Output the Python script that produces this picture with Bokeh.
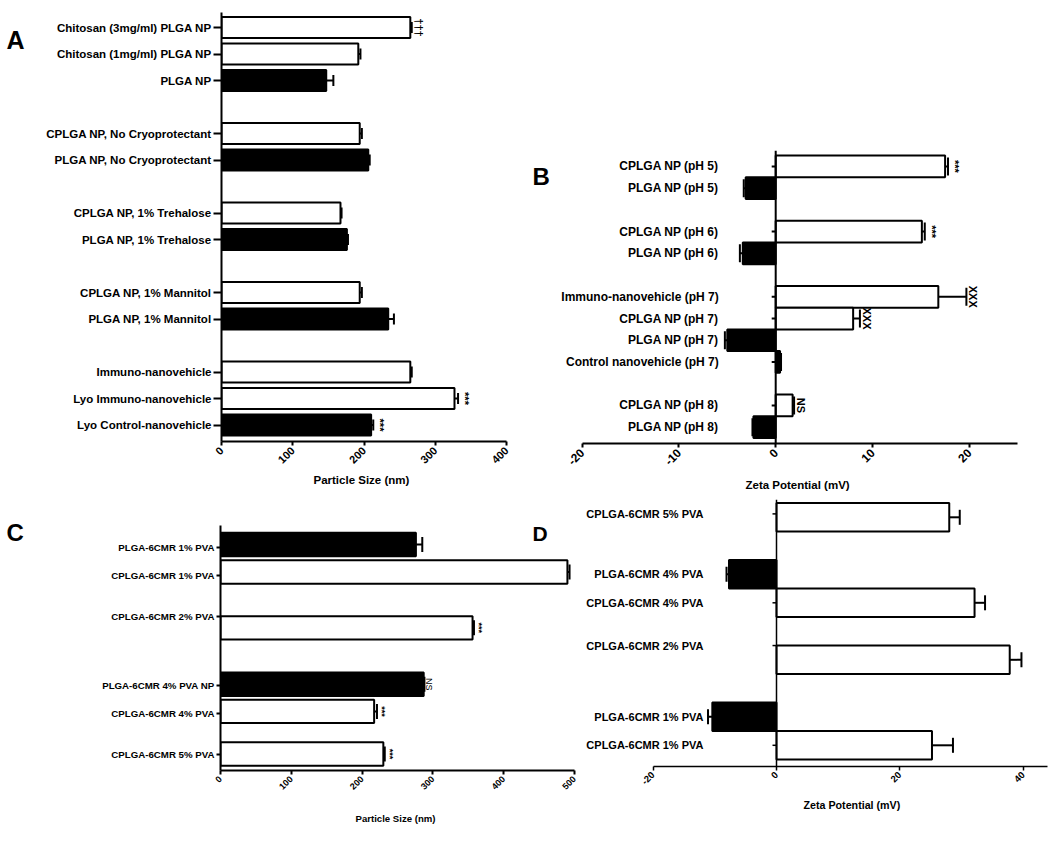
import math
from bokeh.plotting import figure
from bokeh.models import (FixedTicker, Label, Whisker, TeeHead, ColumnDataSource, Range1d,
                          Span, Title)
from bokeh.layouts import row, column
from bokeh.embed import file_html
from bokeh.resources import INLINE
from bokeh.core.properties import value

FONT = "Liberation Sans"

# ---------------- data ----------------
# Panel A : particle size (nm)
a_labels = ["Chitosan (3mg/ml) PLGA NP", "Chitosan (1mg/ml) PLGA NP", "PLGA NP",
            "CPLGA NP, No Cryoprotectant", "PLGA NP, No Cryoprotectant",
            "CPLGA NP, 1% Trehalose", "PLGA NP, 1% Trehalose",
            "CPLGA NP, 1% Mannitol", "PLGA NP, 1% Mannitol",
            "Immuno-nanovehicle", "Lyo Immuno-nanovehicle", "Lyo Control-nanovehicle"]
a_values = [265, 192, 147, 194, 206, 167, 176, 194, 234, 265, 327, 210]
a_errors = [2, 3, 10, 3, 2, 1.5, 1.5, 3, 8, 2, 5, 3]
a_kind = ["coated", "coated", "plain", "coated", "plain", "coated", "plain",
          "coated", "plain", "coated", "coated", "plain"]
a_marks = ["\u2020\u2020\u2020", "", "", "", "", "", "", "", "", "", "***", "***"]
a_ticks = [0, 100, 200, 300, 400]

# Panel B : zeta potential (mV) vs pH
b_labels = ["CPLGA NP (pH 5)", "PLGA NP (pH 5)", "CPLGA NP (pH 6)", "PLGA NP (pH 6)",
            "Immuno-nanovehicle (pH 7)", "CPLGA NP (pH 7)", "PLGA NP (pH 7)",
            "Control nanovehicle (pH 7)", "CPLGA NP (pH 8)", "PLGA NP (pH 8)"]
b_values = [17.5, -3.1, 15.1, -3.4, 16.8, 8.0, -5.0, 0.45, 1.75, -2.3]
b_errors = [0.3, 0.2, 0.3, 0.3, 2.9, 0.7, 0.25, 0.1, 0.15, 0.1]
b_kind = ["coated", "plain", "coated", "plain", "coated", "coated", "plain",
          "plain", "coated", "plain"]
b_marks = ["***", "", "***", "", "XXX", "XXX", "", "", "NS", ""]
b_ticks = [-20, -10, 0, 10, 20]

# Panel C : particle size (nm), 6CMR formulations
c_labels = ["PLGA-6CMR 1% PVA", "CPLGA-6CMR 1% PVA", "CPLGA-6CMR 2% PVA",
            "PLGA-6CMR 4% PVA NP", "CPLGA-6CMR 4% PVA", "CPLGA-6CMR 5% PVA"]
c_values = [276, 490, 356, 287, 217, 230]
c_errors = [9, 3, 2, 1, 4, 2]
c_kind = ["plain", "coated", "coated", "plain", "coated", "coated"]
c_marks = ["", "", "***", "NS", "***", "***"]
c_ticks = [0, 100, 200, 300, 400, 500]

# Panel D : zeta potential (mV), 6CMR formulations
d_labels = ["CPLGA-6CMR 5% PVA", "PLGA-6CMR 4% PVA", "CPLGA-6CMR 4% PVA",
            "CPLGA-6CMR 2% PVA", "PLGA-6CMR 1% PVA", "CPLGA-6CMR 1% PVA"]
d_values = [28.0, -7.7, 32.1, 37.8, -10.4, 25.2]
d_errors = [1.7, 0.4, 1.7, 1.9, 0.7, 3.4]
d_kind = ["coated", "plain", "coated", "coated", "plain", "coated"]
d_ticks = [-20, 0, 20, 40]

panel_letters = ["A", "B", "C", "D"]
size_title = "Particle Size (nm)"
zeta_title = "Zeta Potential (mV)"

# ---------------- layout (row slots) ----------------
a_rows = [0, 1, 2, 4, 5, 7, 8, 10, 11, 13, 14, 15]
b_rows = [0, 1, 3, 4, 6, 7, 8, 9, 11, 12]
c_rows = [0, 1, 3.03, 5.08, 6.07, 7.62]
c_tick_rows = [0.12, 1.12, 2.6, 5.12, 6.15, 7.62]
d_rows = [0, 2, 3, 5, 7, 8]
d_tick_rows = [-0.12, 2, 3, 4.5, 7, 8]

FILL = {"coated": "white", "plain": "black"}

# pixel -> data helpers for each panel (page pixel coordinates)
a_y = lambda py: (py - 27) / 26.5
b_x = lambda px: (px - 775.2) / 9.68
b_y = lambda py: (py - 165.9) / 21.73
c_x = lambda px: (px - 220) / 0.708
c_y = lambda py: (py - 544) / 27.5
d_x = lambda px: (px - 776) / 6.17
d_y = lambda py: (py - 516.8) / 28.5


def base_fig(width, height, xr, yr, left, right, top, bottom, yaxis=True):
    p = figure(width=width, height=height, x_range=Range1d(*xr), y_range=Range1d(*yr),
               output_backend="svg", toolbar_location=None,
               y_axis_location="left" if yaxis else None,
               min_border_left=left, min_border_right=right,
               min_border_top=top, min_border_bottom=bottom)
    if hasattr(p, "frame_align"):
        p.frame_align = False
    p.outline_line_color = None
    p.xgrid.visible = False
    p.ygrid.visible = False
    p.background_fill_color = "white"
    p.border_fill_color = "white"
    return p


def style_axis(ax, size, lw=2, tick_out=4, standoff=3):
    ax.axis_line_width = lw
    ax.axis_line_color = "black"
    ax.major_tick_line_width = lw
    ax.major_tick_line_color = "black"
    ax.major_tick_out = tick_out
    ax.major_tick_in = 0
    ax.minor_tick_line_color = None
    ax.major_label_text_font = FONT
    ax.major_label_text_font_style = "bold"
    ax.major_label_text_font_size = size
    ax.major_label_text_color = "black"
    ax.major_label_standoff = standoff


def x_axis(p, ticks, size, lw=2, bounds=None):
    ax = p.xaxis[0]
    style_axis(ax, size, lw)
    ax.ticker = FixedTicker(ticks=ticks)
    ax.major_label_overrides = {t: str(t) for t in ticks}
    ax.major_label_orientation = math.pi / 4
    if bounds is not None:
        ax.bounds = bounds


def x_title(p, text, size, offset, standoff=2):
    p.add_layout(Title(text=text, align="left", offset=offset, standoff=standoff,
                       text_font=FONT, text_font_size=size, text_font_style="bold",
                       text_color="black"), "below")


def zero_axis(p, ticks, lw):
    p.add_layout(Span(location=0, dimension="height", line_color="black", line_width=lw))
    p.ray(x=[0] * len(ticks), y=ticks, length=4, length_units="screen", angle=math.pi,
          line_color="black", line_width=lw)


def draw_bars(p, rows, values, errors, kinds, bar_h, cap, lw):
    fills = [FILL[k] for k in kinds]
    pos = dict(y=[], lo=[], hi=[])
    neg = dict(y=[], lo=[], hi=[])
    for r, v, e in zip(rows, values, errors):
        if v >= 0:
            pos["y"].append(r); pos["lo"].append(v); pos["hi"].append(v + e)
        else:
            neg["y"].append(r); neg["lo"].append(v - e); neg["hi"].append(v)
    p.add_layout(Whisker(source=ColumnDataSource(pos), base="y", lower="lo", upper="hi",
                         dimension="width", line_width=lw, line_color="black",
                         lower_head=None,
                         upper_head=TeeHead(size=cap, line_width=lw, line_color="black")))
    if neg["y"]:
        p.add_layout(Whisker(source=ColumnDataSource(neg), base="y", lower="lo", upper="hi",
                             dimension="width", line_width=lw, line_color="black",
                             upper_head=None,
                             lower_head=TeeHead(size=cap, line_width=lw, line_color="black")))
    p.hbar(y=rows, left=0, right=values, height=bar_h, fill_color=fills,
           line_color="black", line_width=lw)
    return [v + (e if v >= 0 else -e) for v, e in zip(values, errors)]


def marks(p, ends, rows, texts, size, offset, thin=()):
    xs, ys, ts, st = [], [], [], []
    for x, y, t in zip(ends, rows, texts):
        if t:
            xs.append(x); ys.append(y); ts.append(t)
            st.append("normal" if t in thin else "bold")
    src = ColumnDataSource(dict(x=xs, y=ys, t=ts, st=st))
    p.text(x="x", y="y", text="t", source=src, angle=-math.pi / 2, x_offset=offset,
           text_align="center", text_baseline="middle",
           text_font=value(FONT), text_font_style="st", text_font_size=size,
           text_color="black")


def letter(p, x, y, text, size):
    p.add_layout(Label(x=x, y=y, text=text, text_font=FONT, text_font_size=size,
                       text_font_style="bold", text_align="left",
                       text_baseline="middle", text_color="black"))


def letter_fig(width, height, text, x, y, size):
    p = figure(width=width, height=height, x_range=Range1d(0, width),
               y_range=Range1d(height, 0), output_backend="svg", toolbar_location=None,
               x_axis_location=None, y_axis_location=None,
               min_border_left=0, min_border_right=0, min_border_top=0, min_border_bottom=0)
    if hasattr(p, "frame_align"):
        p.frame_align = False
    p.outline_line_color = None
    p.xgrid.visible = False
    p.ygrid.visible = False
    p.text(x=[x], y=[y], text=[text], text_align="left", text_baseline="middle",
           text_font=value(FONT), text_font_style="bold", text_font_size=size,
           text_color="black")
    return p


ROW1_H = 499
ROW2_H = 359

# ---------------- Panel A ----------------
pLA = letter_fig(35, ROW1_H, panel_letters[0], 6, 39, "25px")
pA = base_fig(485, ROW1_H, (0, 400), (a_y(441), a_y(12)), 186, 14, 12, ROW1_H - 441)
endsA = draw_bars(pA, a_rows, a_values, a_errors, a_kind, 0.79, 11, 2)
marks(pA, endsA, a_rows, a_marks, "11px", 7)
x_axis(pA, a_ticks, "11px")
ya = pA.yaxis[0]
style_axis(ya, "11.5px", 2, tick_out=8, standoff=2)
ya.ticker = FixedTicker(ticks=a_rows)
ya.major_label_overrides = {r: t for r, t in zip(a_rows, a_labels)}
x_title(pA, size_title, "11.5px", 92)

# ---------------- Panel B ----------------
pB = base_fig(528, ROW1_H, (b_x(530), b_x(1017)), (b_y(443), b_y(150)), 10, 31, 150,
              ROW1_H - 443, yaxis=False)
zero_axis(pB, b_rows, 2)
endsB = draw_bars(pB, b_rows, b_values, b_errors, b_kind, 1.0, 18, 2)
marks(pB, endsB, b_rows, b_marks, "11px", 7)
x_axis(pB, b_ticks, "12px", bounds=(-20, 25))
pB.text(x=[0] * len(b_rows), y=b_rows, text=b_labels, x_offset=-57,
        text_align="right", text_baseline="middle", text_font=value(FONT),
        text_font_style="bold", text_font_size="12px", text_color="black")
letter(pB, b_x(532), b_y(176), panel_letters[1], "24px")
x_title(pB, zeta_title, "11.5px", 215, standoff=8)

# ---------------- Panel C ----------------
pLC = letter_fig(35, ROW2_H, panel_letters[2], 6, 532 - ROW1_H, "24px")
pC = base_fig(545, ROW2_H, (0, 500), (c_y(770), c_y(525)), 185, 6, 525 - ROW1_H,
              ROW1_H + ROW2_H - 770)
endsC = draw_bars(pC, c_rows, c_values, c_errors, c_kind, 0.85, 15, 2)
marks(pC, endsC, c_rows, c_marks, "9px", 5, thin=("NS",))
x_axis(pC, c_ticks, "9px")
yc = pC.yaxis[0]
style_axis(yc, "9.7px", 2, tick_out=4, standoff=2)
yc.ticker = FixedTicker(ticks=c_tick_rows)
yc.major_label_overrides = {r: t for r, t in zip(c_tick_rows, c_labels)}
letter(pC, c_x(532), c_y(533), panel_letters[3], "21px")
x_title(pC, size_title, "9.6px", 135, standoff=30)

# ---------------- Panel D ----------------
D_TOP = ROW1_H
pD = base_fig(468, ROW2_H, (d_x(585), d_x(1047)), (d_y(766), d_y(D_TOP)), 5, 1,
              0, ROW1_H + ROW2_H - 766, yaxis=False)
zero_axis(pD, d_tick_rows, 1.5)
draw_bars(pD, d_rows, d_values, d_errors, d_kind, 1.0, 15, 2)
x_axis(pD, d_ticks, "9.5px", lw=1.5, bounds=(-20, d_x(1047)))
pD.text(x=[0] * len(d_tick_rows), y=d_tick_rows, text=d_labels, x_offset=-73,
        text_align="right", text_baseline="middle", text_font=value(FONT),
        text_font_style="bold", text_font_size="11px", text_color="black")
x_title(pD, zeta_title, "10.7px", 218, standoff=12)

layout = column(row(pLA, pA, pB), row(pLC, pC, pD))
open("out.html", "w").write(file_html(layout, INLINE, "chart"))
